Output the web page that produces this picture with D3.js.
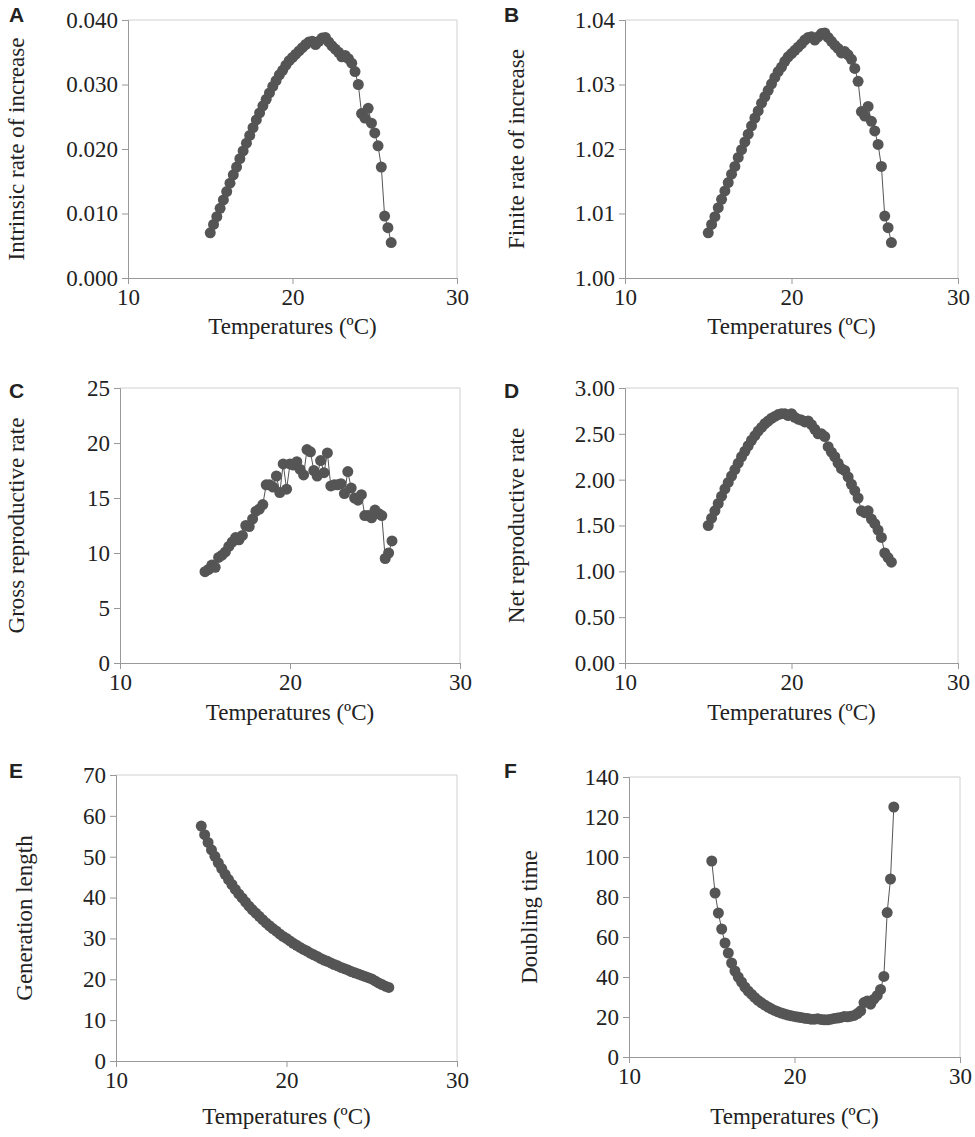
<!DOCTYPE html>
<html>
<head>
<meta charset="UTF-8">
<title></title>
<style>
  body { margin: 0; background: #fff; }
  svg text { font-family: "Liberation Serif", "Times New Roman", serif; fill: #222; }
  svg text.letter { font-family: "Liberation Sans", Arial, sans-serif; font-weight: bold; }
</style>
</head>
<body>
<div id="svg"></div>
<script src="https://d3js.org/d3.v7.min.js"></script>
<script>
var temps = [15.0,15.2,15.4,15.6,15.8,16.0,16.2,16.4,16.6,16.8,17.0,17.2,17.4,17.6,17.8,18.0,18.2,18.4,18.6,18.8,
  19.0,19.2,19.4,19.6,19.8,20.0,20.2,20.4,20.6,20.8,21.0,21.2,21.4,21.6,21.8,22.0,22.2,22.4,22.6,22.8,
  23.0,23.2,23.4,23.6,23.8,24.0,24.2,24.4,24.6,24.8,25.0,25.2,25.4,25.6,25.8,26.0];

var intrinsicRate = [.0070,.0083,.0095,.0108,.0121,.0134,.0147,.0160,.0172,.0185,.0197,.0209,.0221,.0233,.0245,.0256,.0267,.0277,.0287,.0297,
  .0306,.0315,.0322,.0330,.0337,.0342,.0347,.0352,.0357,.0362,.0366,.0367,.0362,.0367,.0372,.0373,.0366,.0360,.0355,.0350,
  .0343,.0345,.0340,.0333,.0320,.0300,.0255,.0248,.0263,.0240,.0225,.0205,.0172,.0096,.0078,.0055];

var finiteRate = [1.0070,1.0083,1.0095,1.0109,1.0122,1.0135,1.0148,1.0161,1.0173,1.0187,1.0199,1.0211,1.0223,1.0236,1.0248,1.0259,1.0271,1.0281,1.0291,1.0301,
  1.0311,1.0320,1.0327,1.0336,1.0343,1.0348,1.0353,1.0358,1.0363,1.0369,1.0373,1.0374,1.0369,1.0374,1.0379,1.0380,1.0373,1.0367,1.0361,1.0356,
  1.0349,1.0351,1.0346,1.0339,1.0325,1.0305,1.0258,1.0251,1.0266,1.0243,1.0228,1.0207,1.0173,1.0096,1.0078,1.0055];

var grossRate = [8.3,8.5,8.9,8.7,9.6,9.8,10.1,10.6,11.0,11.4,11.2,11.6,12.5,12.4,13.1,13.8,14.0,14.4,16.2,16.2,
  16.0,17.0,15.5,18.1,15.8,18.1,18.0,18.3,17.6,17.1,19.4,19.2,17.5,17.0,18.4,17.3,19.1,16.1,16.2,16.2,
  16.3,15.4,17.4,15.9,15.0,14.8,15.3,13.4,13.4,13.2,13.9,13.6,13.4,9.5,10.0,11.1];

var netRate = [1.50,1.58,1.66,1.74,1.82,1.90,1.97,2.04,2.11,2.18,2.25,2.31,2.37,2.43,2.48,2.53,2.57,2.61,2.64,2.67,
  2.69,2.71,2.72,2.72,2.70,2.72,2.68,2.66,2.65,2.63,2.64,2.60,2.55,2.50,2.50,2.47,2.36,2.30,2.25,2.18,
  2.12,2.10,2.03,1.95,1.88,1.80,1.66,1.64,1.66,1.57,1.52,1.45,1.37,1.20,1.15,1.10];

var generationLength = [57.5,55.4,53.5,51.7,50.1,48.5,47.1,45.7,44.4,43.2,42.0,40.9,39.9,38.9,37.9,37.0,36.2,35.4,34.6,33.8,
  33.1,32.4,31.8,31.1,30.5,30.0,29.4,28.8,28.3,27.8,27.3,26.9,26.4,26.0,25.6,25.1,24.7,24.4,24.0,23.6,
  23.3,22.9,22.6,22.3,21.9,21.6,21.3,21.0,20.7,20.4,20.1,19.6,19.1,18.7,18.3,18.0];

var doublingTime = [98,82,72,64,57,52,47,43,40,37.5,35,33,31.4,29.8,28.3,27.1,26.0,25.0,24.1,23.3,
  22.6,22.0,21.5,21.0,20.6,20.3,20.0,19.7,19.4,19.2,18.9,18.9,19.1,18.8,18.6,18.6,18.9,19.3,19.5,19.8,
  20.2,20.1,20.4,20.8,21.7,23.1,27.2,28.0,26.4,28.9,30.8,33.8,40.3,72.2,89.0,125];

var xTicks = [10, 20, 30];

var panels = [
  {letter: "A", label: "Intrinsic rate of increase", values: intrinsicRate, dom: [0, 0.04], ticks: [0,.01,.02,.03,.04], fmt: d3.format(".3f"),
   box: [128, 457, 278, 20], lx: 24, lp: [9, 22], xl: 334},
  {letter: "B", label: "Finite rate of increase", values: finiteRate, dom: [1, 1.04], ticks: [1,1.01,1.02,1.03,1.04], fmt: d3.format(".2f"),
   box: [625, 958, 278, 20], lx: 524, lp: [504, 22], xl: 334},
  {letter: "C", label: "Gross reproductive rate", values: grossRate, dom: [0, 25], ticks: [0,5,10,15,20,25], fmt: d3.format("d"),
   box: [120, 460, 663, 388], lx: 24, lp: [9, 398], xl: 720},
  {letter: "D", label: "Net reproductive rate", values: netRate, dom: [0, 3], ticks: [0,.5,1,1.5,2,2.5,3], fmt: d3.format(".2f"),
   box: [625, 958, 663, 388], lx: 524, lp: [504, 398], xl: 720},
  {letter: "E", label: "Generation length", values: generationLength, dom: [0, 70], ticks: [0,10,20,30,40,50,60,70], fmt: d3.format("d"),
   box: [116, 457, 1061, 775], lx: 32, lp: [9, 778], xl: 1124},
  {letter: "F", label: "Doubling time", values: doublingTime, dom: [0, 140], ticks: [0,20,40,60,80,100,120,140], fmt: d3.format("d"),
   box: [629, 960, 1057, 777], lx: 537, lp: [504, 778], xl: 1124}
];

var svg = d3.select("#svg").append("svg").attr("width", 975).attr("height", 1137);

panels.forEach(function(p) {
  var x = d3.scaleLinear().domain([10, 30]).range([p.box[0], p.box[1]]);
  var y = d3.scaleLinear().domain(p.dom).range([p.box[2], p.box[3]]);
  var g = svg.append("g");

  // light frame on top and right
  g.append("path")
    .attr("d", "M" + x(10) + "," + y(p.dom[1]) + "H" + x(30) + "V" + y(p.dom[0]))
    .attr("fill", "none").attr("stroke", "#d0d0d0");

  var xa = g.append("g").attr("transform", "translate(0," + y(p.dom[0]) + ")")
    .call(d3.axisBottom(x).tickValues(xTicks).tickSize(6).tickPadding(5).tickFormat(d3.format("d")));
  var ya = g.append("g").attr("transform", "translate(" + x(10) + ",0)")
    .call(d3.axisLeft(y).tickValues(p.ticks).tickSize(6).tickPadding(4).tickFormat(p.fmt));
  [xa, ya].forEach(function(a) {
    a.attr("font-family", "Liberation Serif").attr("font-size", 23);
    a.select(".domain").attr("stroke", "#999");
    a.selectAll(".tick line").attr("stroke", "#999");
    a.selectAll("text").attr("fill", "#222");
  });

  var line = d3.line().x(function(d, i) { return x(temps[i]); }).y(function(d) { return y(d); });
  g.append("path").datum(p.values).attr("d", line)
    .attr("fill", "none").attr("stroke", "#555").attr("stroke-width", 1);
  g.selectAll("circle").data(p.values).join("circle")
    .attr("cx", function(d, i) { return x(temps[i]); })
    .attr("cy", function(d) { return y(d); })
    .attr("r", 5.5).attr("fill", "#555");

  g.append("text").attr("x", (p.box[0] + p.box[1]) / 2).attr("y", p.xl)
    .attr("text-anchor", "middle").style("font-size", "23px").text("Temperatures (ºC)");
  g.append("text")
    .attr("transform", "translate(" + p.lx + "," + (p.box[2] + p.box[3]) / 2 + ") rotate(-90)")
    .attr("text-anchor", "middle").style("font-size", "23px").text(p.label);
  g.append("text").attr("class", "letter").attr("x", p.lp[0]).attr("y", p.lp[1])
    .style("font-size", "21px").text(p.letter);
});
</script>
</body>
</html>
